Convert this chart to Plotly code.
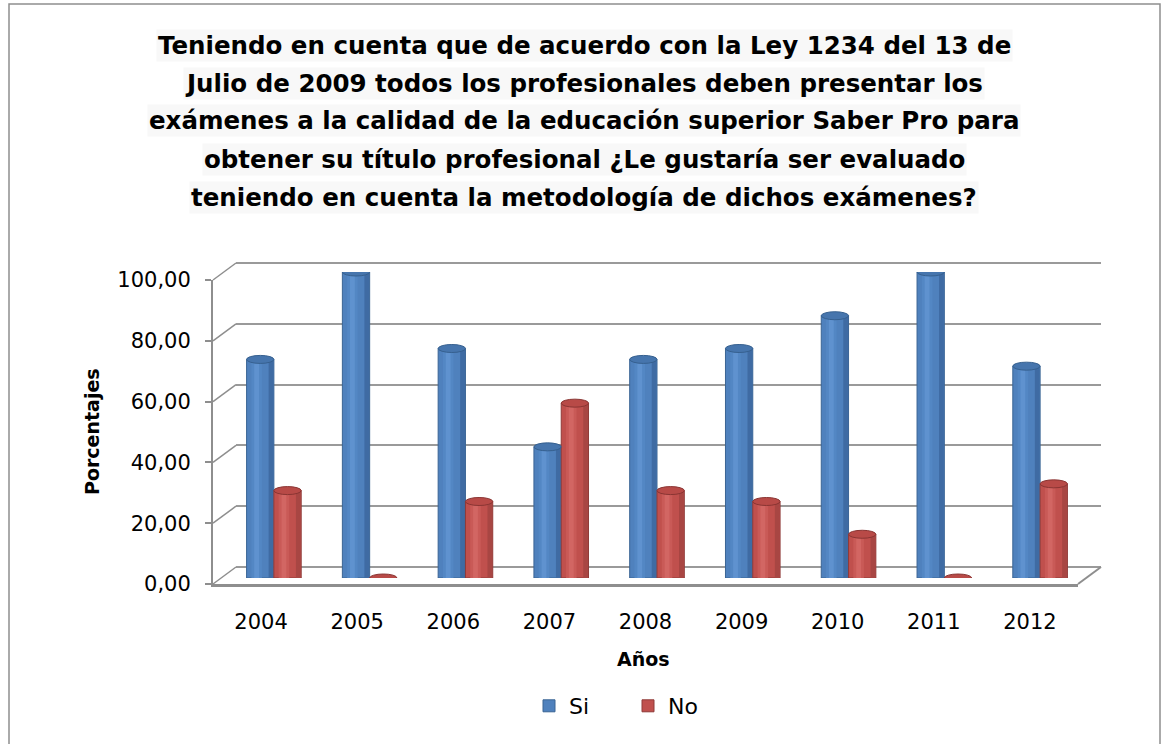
import plotly.graph_objects as go

W, H = 1165, 744

years = ["2004", "2005", "2006", "2007", "2008", "2009", "2010", "2011", "2012"]
si = [71.43, 100.0, 75.0, 42.86, 71.43, 75.0, 85.71, 100.0, 69.23]
no = [28.57, 0.0, 25.0, 57.14, 28.57, 25.0, 14.29, 0.0, 30.77]
y_ticks = [0, 20, 40, 60, 80, 100]

title_lines = [
    "Teniendo en cuenta que de acuerdo con la Ley 1234 del 13 de",
    "Julio de 2009 todos los profesionales deben presentar los",
    "exámenes a la calidad de la educación superior Saber Pro para",
    "obtener su título profesional ¿Le gustaría ser evaluado",
    "teniendo en cuenta la metodología de dichos exámenes?",
]


def PX(px):
    return px / W


def PY(py):
    return 1 - py / H


GRAY = "#8e8e8e"
TICKFONT = dict(family="DejaVu Sans", size=21, color="black")

fig = go.Figure()

BW = 0.285
si_layers = [
    (-BW, BW, "#4a7cb9", "#3a6494", True),
    (-BW + 0.05, 0.11, "#5387c4", None, False),
    (-BW + 0.08, 0.05, "#5f92cf", None, False),
    (-0.055, 0.05, "#3f6ba3", None, False),
]
no_layers = [
    (0.0, BW, "#c0504d", "#8f3a38", True),
    (0.05, 0.11, "#c95a57", None, False),
    (0.08, 0.05, "#d26663", None, False),
    (BW - 0.055, 0.05, "#a84643", None, False),
]

for name, vals, layers in (("Si", si, si_layers), ("No", no, no_layers)):
    for off, w, col, lcol, show in layers:
        fig.add_trace(go.Bar(
            x=years, y=vals, name=name, legendgroup=name, showlegend=show,
            offset=off, width=w,
            marker=dict(color=col, line=dict(color=lcol or col, width=1 if lcol else 0)),
            xaxis="x3", yaxis="y3", hoverinfo="skip",
        ))

fig.data[0].marker.color = "#4f81bd"
fig.data[4].marker.color = "#c0504d"

fig.add_trace(go.Scatter(x=years, y=[None] * len(years), mode="none",
                         showlegend=False, hoverinfo="skip", xaxis="x", yaxis="y"))
fig.add_trace(go.Scatter(x=[0, 1], y=[0, 100], mode="none",
                         showlegend=False, hoverinfo="skip", xaxis="x2", yaxis="y2"))

shapes = []
shapes.append(dict(type="rect", xref="paper", yref="paper",
                   x0=PX(9), x1=PX(1160), y0=PY(760), y1=PY(4),
                   line=dict(color=GRAY, width=1.5), layer="below"))

front_bottom, back_bottom, scale = 584, 567, 3.04
for v in y_ticks:
    shapes.append(dict(type="line", xref="paper", yref="paper",
                       x0=PX(213), y0=PY(front_bottom - v * scale),
                       x1=PX(236), y1=PY(back_bottom - v * scale),
                       line=dict(color=GRAY, width=1.5)))
shapes.append(dict(type="line", xref="paper", yref="paper",
                   x0=PX(1078), y0=PY(front_bottom), x1=PX(1101), y1=PY(back_bottom),
                   line=dict(color=GRAY, width=2)))

for i in range(len(years)):
    for vals, off, fill, edge in ((si, -BW, "#4675ad", "#36608f"), (no, 0.0, "#b84a47", "#8a3533")):
        shapes.append(dict(type="circle", xref="x3", yref="y3",
                           x0=i + off, x1=i + off + BW,
                           yanchor=vals[i], ysizemode="pixel", y0=-4, y1=4,
                           fillcolor=fill, line=dict(color=edge, width=1)))

annotations = []
title_y = [45, 83, 121, 159, 197]
for line, yy in zip(title_lines, title_y):
    annotations.append(dict(text="<b>" + line + "</b>", x=PX(584), y=PY(yy),
                            xref="paper", yref="paper", showarrow=False,
                            xanchor="center", yanchor="middle",
                            bgcolor="#f8f8f8", borderpad=1,
                            font=dict(family="DejaVu Sans", size=24.5, color="black")))
annotations.append(dict(text="<b>Porcentajes</b>", x=PX(92), y=PY(432), xref="paper", yref="paper",
                        showarrow=False, textangle=-90, xanchor="center", yanchor="middle",
                        font=dict(family="DejaVu Sans", size=19, color="black")))
annotations.append(dict(text="<b>Años</b>", x=PX(643), y=PY(659), xref="paper", yref="paper",
                        showarrow=False, xanchor="center", yanchor="middle",
                        font=dict(family="DejaVu Sans", size=19, color="black")))

noauto = dict(automargin=False)
fig.update_layout(
    width=W, height=H,
    margin=dict(l=0, r=0, t=0, b=0, pad=0, autoexpand=False),
    paper_bgcolor="white", plot_bgcolor="rgba(0,0,0,0)",
    separators=",.",
    barmode="overlay",
    showlegend=True,
    legend=dict(orientation="h", x=PX(628), xanchor="center", y=PY(706), yanchor="middle",
                font=dict(family="DejaVu Sans", size=22, color="black"),
                entrywidth=54, entrywidthmode="pixels", itemclick=False,
                bgcolor="rgba(0,0,0,0)"),
    xaxis=dict(domain=[PX(213), PX(1078)], type="category", categoryorder="array",
               categoryarray=years, range=[-0.5, len(years) - 0.5],
               showline=True, linecolor=GRAY, linewidth=2.5,
               ticks="", tickfont=TICKFONT, ticklabelstandoff=17,
               showgrid=False, zeroline=False,
               anchor="y", fixedrange=True, **noauto),
    yaxis=dict(domain=[PY(584), PY(280)], range=[0, 100], tickvals=y_ticks,
               tickformat=".2f", showline=True, linecolor=GRAY, linewidth=2,
               ticks="outside", ticklen=6, tickcolor=GRAY, tickwidth=1.5,
               tickfont=TICKFONT, ticklabelstandoff=10,
               showgrid=False, zeroline=False, anchor="x",
               fixedrange=True, **noauto),
    xaxis2=dict(domain=[PX(236), PX(1101)], range=[0, 1], visible=False, anchor="y2", **noauto),
    yaxis2=dict(domain=[PY(567 + scale), PY(263 - scale)], range=[-1, 101], tickvals=y_ticks,
                showticklabels=False, showgrid=True, gridcolor="#9a9a9a", gridwidth=1.8,
                zeroline=False, showline=False, ticks="", anchor="x2", **noauto),
    xaxis3=dict(domain=[PX(226), PX(1088)], type="category", categoryorder="array",
                categoryarray=years, range=[-0.5, len(years) - 0.5],
                visible=False, anchor="y3", **noauto),
    yaxis3=dict(domain=[PY(578), PY(272)], range=[0, 100], visible=False, anchor="x3", **noauto),
    shapes=shapes,
    annotations=annotations,
)

fig.write_html("out.html",
               config={"displayModeBar": False},
               post_script="document.body.style.margin='0';document.body.style.padding='0';")
